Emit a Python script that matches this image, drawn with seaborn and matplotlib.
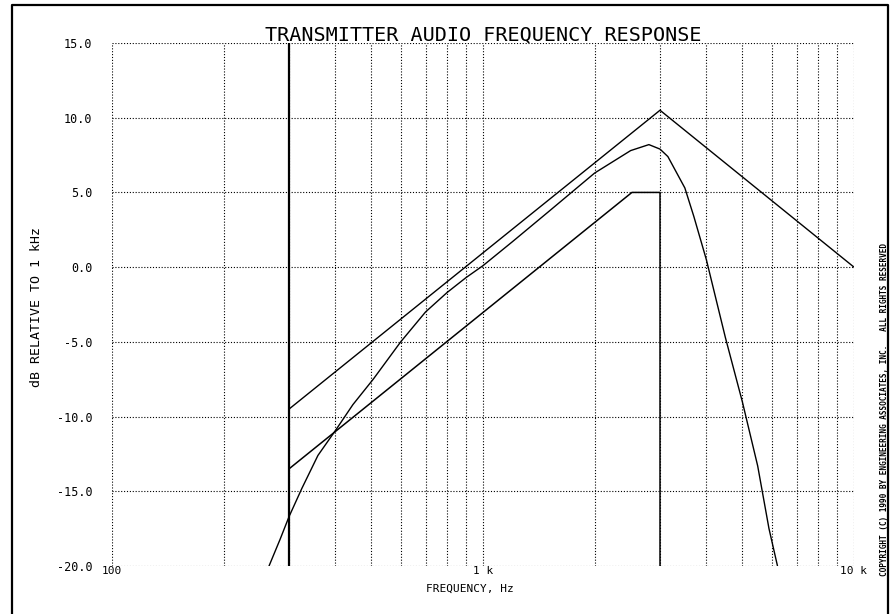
import numpy as np
import seaborn as sns
import pandas as pd
import matplotlib.pyplot as plt
from matplotlib.lines import Line2D

meas_freq = [265, 284, 300, 325, 359, 401, 446, 506, 600, 700, 800, 900, 1000,
             1200, 1500, 2000, 2500, 2800, 3000, 3150, 3500, 3700, 4000, 4500,
             5000, 5500, 5900, 6220]
meas_db = [-20.0, -18.2, -16.7, -14.8, -12.6, -10.9, -9.2, -7.5, -5.0, -3.0, -1.7,
           -0.7, 0.1, 1.7, 3.7, 6.3, 7.8, 8.2, 7.9, 7.4, 5.3, 3.4, 0.5, -4.7,
           -9.0, -13.3, -17.5, -20.0]

# upper / lower limit masks
upper_freq = [300, 3000, 10000]
upper_db = [-9.5, 10.5, 0.0]
lower_freq = [300, 2520, 3000, 3000]
lower_db = [-13.5, 5.0, 5.0, -20.0]
cutoff_freq = [300, 300]
cutoff_db = [15.0, -20.0]

y_ticks = [15, 10, 5, 0, -5, -10, -15, -20]
y_labels = ["15.0", "10.0", "5.0", "0.0", "-5.0", "-10.0", "-15.0", "-20.0"]
x_ticks = [100, 1000, 10000]
x_labels = ["100", "1 k", "10 k"]

sns.set_style("white")
plt.rcParams['font.family'] = ['DejaVu Sans Mono', 'DejaVu Sans']
plt.rcParams['text.color'] = 'black'
plt.rcParams['xtick.color'] = 'black'
plt.rcParams['ytick.color'] = 'black'

fig = plt.figure(figsize=(8.91, 6.14), dpi=100)
ax = fig.add_axes([112 / 891, 1 - 566 / 614, 742 / 891, 523 / 614])

dots = (0, (1, 1.6))
ax.set_xscale("log")
ax.set_xlim(100, 10000)
ax.set_ylim(-20, 15)
ax.set_yticks(y_ticks)
ax.set_yticklabels(y_labels, fontsize=8.5)
ax.set_xticks(x_ticks)
ax.set_xticklabels(x_labels, fontsize=8)
ax.set_xticks([m * d for d in (100, 1000) for m in range(2, 10)], minor=True)
ax.xaxis.set_minor_formatter(plt.NullFormatter())
ax.tick_params(axis="both", which="both", length=0)
ax.tick_params(axis="y", pad=14)
ax.tick_params(axis="x", pad=0)
ax.grid(True, which="both", axis="x", color="black", lw=0.8, linestyle=dots)
ax.grid(True, which="major", axis="y", color="black", lw=0.8, linestyle=dots)
for s in ax.spines.values():
    s.set_visible(False)

sns.lineplot(x=meas_freq, y=meas_db, ax=ax, color="black", lw=1.0, sort=False, estimator=None)
sns.lineplot(x=upper_freq, y=upper_db, ax=ax, color="black", lw=1.0, sort=False, estimator=None)
sns.lineplot(x=lower_freq, y=lower_db, ax=ax, color="black", lw=1.1, sort=False, estimator=None)
sns.lineplot(x=cutoff_freq, y=cutoff_db, ax=ax, color="black", lw=1.6, sort=False, estimator=None)

ax.set_title("TRANSMITTER AUDIO FREQUENCY RESPONSE", fontsize=14.5, pad=2, color="black")
ax.set_xlabel("")
ax.set_ylabel("")
fig.text(470 / 891, 1 - 589 / 614, "FREQUENCY, Hz", fontsize=8, ha="center", va="center")
fig.text(37 / 891, 1 - 307 / 614, "dB RELATIVE TO 1 kHz", fontsize=9.5, rotation=90,
         ha="center", va="center")
fig.text(884 / 891, 1 - 410 / 614, "COPYRIGHT (C) 1990 BY ENGINEERING ASSOCIATES, INC.   ALL RIGHTS RESERVED",
         fontsize=5.6, fontweight="bold", rotation=90, ha="center", va="center")

# outer frame (left, top, right)
fx = [11.5 / 891, 11.5 / 891, 888 / 891, 888 / 891]
fy = [0.0, 1 - 4.5 / 614, 1 - 4.5 / 614, 0.0]
fig.add_artist(Line2D(fx, fy, transform=fig.transFigure, color="black", lw=1.6))

fig.savefig("out.png", dpi=100)
